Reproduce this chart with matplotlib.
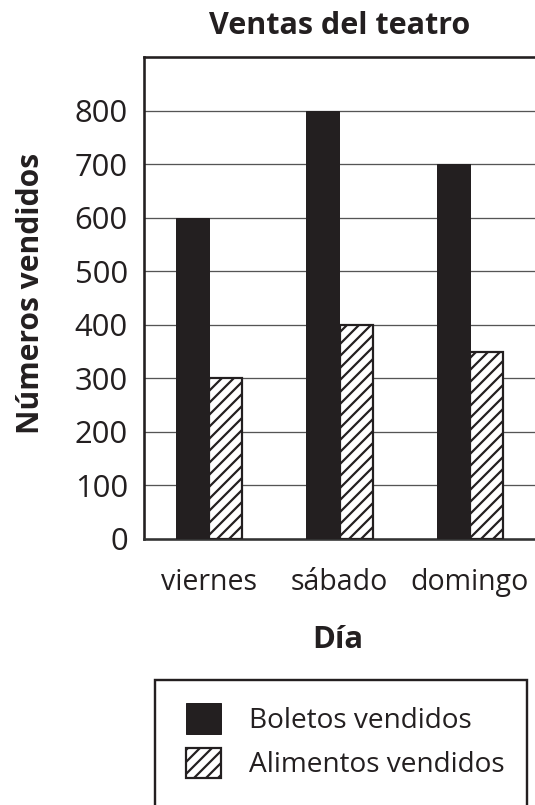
import matplotlib
matplotlib.use("Agg")
import matplotlib.pyplot as plt
import matplotlib.transforms as mtransforms
from matplotlib.patches import Rectangle
import numpy as np

days = ["viernes", "sábado", "domingo"]
boletos = [600, 800, 700]
alimentos = [300, 400, 350]
yticks = [0, 100, 200, 300, 400, 500, 600, 700, 800]

DARK = "#231f20"
plt.rcParams["font.family"] = ["Open Sans", "DejaVu Sans"]
plt.rcParams["hatch.linewidth"] = 2.2
plt.rcParams["hatch.color"] = DARK

DPI = 72
W, H = 535, 805
fig = plt.figure(figsize=(W / DPI, H / DPI), dpi=DPI)
ax = fig.add_axes([144 / W, 1 - 539 / H, 1 - 144 / W, (539 - 57) / H])

x = np.arange(len(days))
bw = 0.255
ax.bar(x - bw / 2, boletos, width=bw, color=DARK, edgecolor=DARK, linewidth=1.0,
       zorder=3, label="Boletos vendidos")
ax.bar(x + bw / 2, alimentos, width=bw, color="white", edgecolor=DARK, linewidth=2.2,
       hatch="//", zorder=3, label="Alimentos vendidos")

ax.set_xlim(-0.5, 2.5)
ax.set_ylim(0, 900)
ax.set_yticks(yticks)
ax.set_yticklabels([str(v) for v in yticks], fontsize=31, color=DARK)
for v in yticks[1:]:
    ax.axhline(v, color="#555555", linewidth=1.3, zorder=1)

ax.set_xticks(x)
ax.set_xticklabels(days, fontsize=28.5, color=DARK)
offsets = [0, 20, 17]
for lab, dx in zip(ax.get_xticklabels(), offsets):
    lab.set_transform(lab.get_transform() + mtransforms.ScaledTranslation(dx / DPI, 0, fig.dpi_scale_trans))
ax.tick_params(axis="both", length=0)
ax.tick_params(axis="y", pad=16)
ax.tick_params(axis="x", pad=29)

for s in ["left", "top", "bottom"]:
    ax.spines[s].set_linewidth(2.6)
    ax.spines[s].set_color(DARK)
ax.spines["right"].set_visible(False)
ax.spines["bottom"].set_color("#333333")

fig.text(340 / W, 1 - 26 / H, "Ventas del teatro", ha="center", va="center",
         fontsize=30.5, fontweight="bold", color=DARK)
fig.text(31 / W, 1 - 293 / H, "Números vendidos", ha="center", va="center",
         rotation=90, fontsize=30, fontweight="bold", color=DARK)
fig.text(338 / W, 1 - 640 / H, "Día", ha="center", va="center",
         fontsize=31, fontweight="bold", color=DARK)

# legend frame (extends beyond the bottom edge as in the reference)
fig.patches.append(Rectangle((155 / W, -0.05), (527 - 155) / W, (1 - 680 / H) + 0.05,
                             transform=fig.transFigure, facecolor="white",
                             edgecolor=DARK, linewidth=2.4, zorder=0))

leg = fig.legend(loc="upper left", bbox_to_anchor=(178 / W, 1 - 695 / H),
                 bbox_transform=fig.transFigure, fontsize=28, frameon=False,
                 borderaxespad=0, borderpad=0.3,
                 handlelength=1.25, handleheight=1.3, handletextpad=1.0,
                 labelspacing=0.45, labelcolor=DARK)

fig.savefig("out.png", dpi=DPI)
